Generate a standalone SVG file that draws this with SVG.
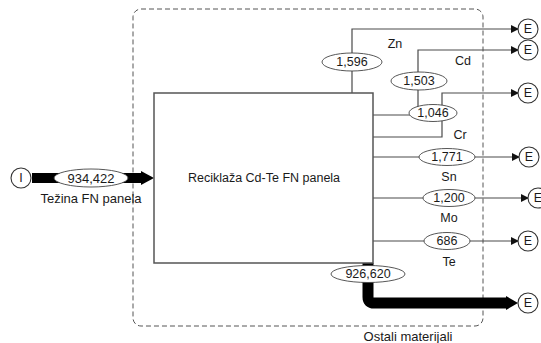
<svg xmlns="http://www.w3.org/2000/svg" width="541" height="343" viewBox="0 0 541 343">
<defs>
<style>
text{font-family:"Liberation Sans",Arial,sans-serif;font-size:12.5px;fill:#1a1a1a;text-anchor:middle;dominant-baseline:central}
.big{font-size:13px}
.flow{fill:none;stroke:#4a4a4a;stroke-width:1.2}
.lbl{fill:#fff;stroke:#444;stroke-width:0.9}
.node{fill:#fff;stroke:#333;stroke-width:1.1}
</style>
<marker id="ah" viewBox="0 0 10 10" refX="10" refY="5" markerWidth="8" markerHeight="8" markerUnits="userSpaceOnUse" orient="auto">
<path d="M0,0 L10,5 L0,10 z" fill="#111"/>
</marker>
</defs>
<rect x="133" y="9" width="350" height="317" rx="8" fill="none" stroke="#555" stroke-width="1" stroke-dasharray="5,3"/>
<g id="connectors">
<path class="flow" d="M352,93 V29 H519" marker-end="url(#ah)"/>
<path class="flow" d="M373,115 H418 V50 H519" marker-end="url(#ah)"/>
<path class="flow" d="M373,137 H442 V93 H519" marker-end="url(#ah)"/>
<path class="flow" d="M373,157 H520" marker-end="url(#ah)"/>
<path class="flow" d="M373,198 H529" marker-end="url(#ah)"/>
<path class="flow" d="M373,241 H519" marker-end="url(#ah)"/>
<path d="M32,178 H143" fill="none" stroke="#000" stroke-width="10"/>
<path d="M141,171 L154,178 L141,185 z" fill="#000"/>
<path d="M368,263 V297 Q368,303 374,303 H508" fill="none" stroke="#000" stroke-width="11"/>
<path d="M506,296 L518,303 L506,310 z" fill="#000"/>
<ellipse class="lbl" cx="91" cy="178" rx="37" ry="9"/>
<text class="big" x="91" y="178">934,422</text>
<text class="big" x="91" y="198">Težina FN panela</text>
<ellipse class="lbl" cx="352" cy="62" rx="30" ry="9"/>
<text x="352" y="62">1,596</text>
<text x="395" y="44">Zn</text>
<ellipse class="lbl" cx="419" cy="81" rx="28" ry="9"/>
<text x="419" y="81">1,503</text>
<text x="463" y="61">Cd</text>
<ellipse class="lbl" cx="433" cy="113" rx="24" ry="8.5"/>
<text x="433" y="113">1,046</text>
<text x="460" y="135">Cr</text>
<ellipse class="lbl" cx="447" cy="157" rx="28" ry="8.5"/>
<text x="447" y="157">1,771</text>
<text x="449" y="177">Sn</text>
<ellipse class="lbl" cx="449" cy="198" rx="26" ry="8.5"/>
<text x="449" y="198">1,200</text>
<text x="449" y="218">Mo</text>
<ellipse class="lbl" cx="447" cy="241" rx="23" ry="8.5"/>
<text x="447" y="241">686</text>
<text x="449" y="262">Te</text>
<ellipse class="lbl" cx="368" cy="274" rx="37" ry="8.5"/>
<text x="368" y="274">926,620</text>
<text class="big" x="408" y="336">Ostali materijali</text>
</g>
<g id="process">
<rect x="154" y="93" width="219" height="170" fill="#fff" stroke="#555" stroke-width="1.5"/>
<text x="264" y="178">Reciklaža Cd-Te FN panela</text>
</g>
<g id="input"><circle class="node" cx="21" cy="178" r="10"/><text x="21" y="178">I</text></g>
<g id="out-zn"><circle class="node" cx="528" cy="29" r="10"/><text x="528" y="29">E</text></g>
<g id="out-cd"><circle class="node" cx="528" cy="50" r="10"/><text x="528" y="50">E</text></g>
<g id="out-cr"><circle class="node" cx="528" cy="93" r="10"/><text x="528" y="93">E</text></g>
<g id="out-sn"><circle class="node" cx="529" cy="157" r="10"/><text x="529" y="157">E</text></g>
<g id="out-mo"><circle class="node" cx="538" cy="198" r="10"/><text x="538" y="198">E</text></g>
<g id="out-te"><circle class="node" cx="528" cy="241" r="10"/><text x="528" y="241">E</text></g>
<g id="out-rest"><circle class="node" cx="528" cy="303" r="10"/><text x="528" y="303">E</text></g>
</svg>
